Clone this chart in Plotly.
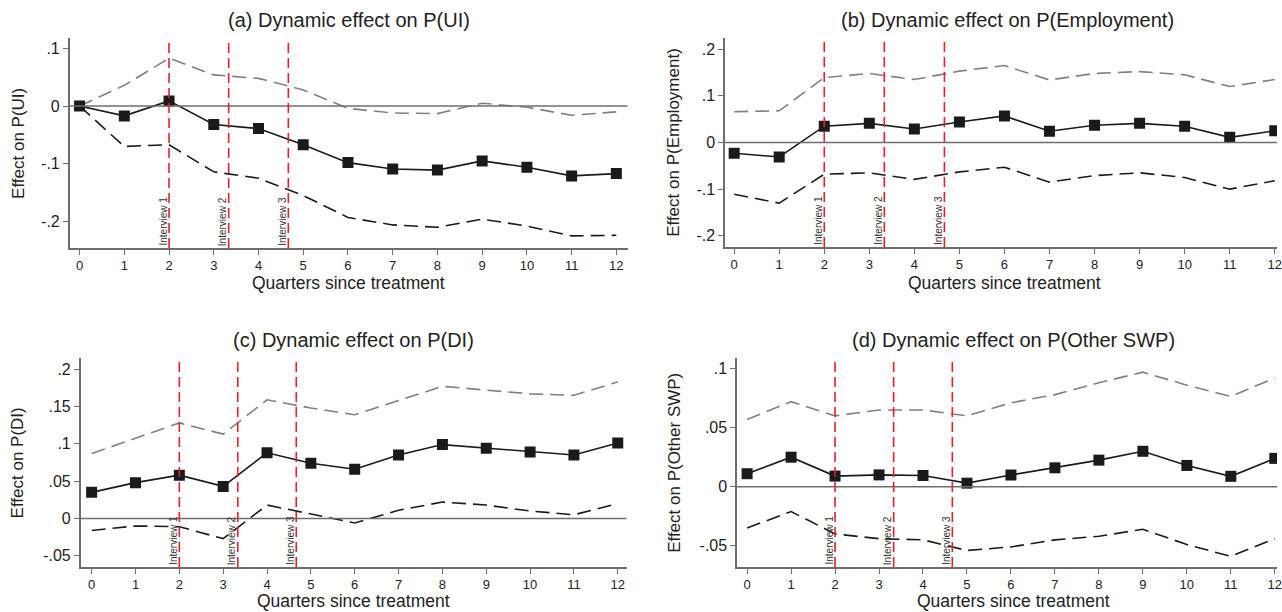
import plotly.graph_objects as go

quarters = list(range(13))
interviews = [2, 3.333, 4.667]
interview_labels = ["Interview 1", "Interview 2", "Interview 3"]

ui_est = [0, -0.017, 0.009, -0.032, -0.039, -0.067, -0.098, -0.109, -0.111, -0.095, -0.106, -0.121, -0.117]
ui_hi = [0, 0.036, 0.083, 0.054, 0.048, 0.028, -0.004, -0.012, -0.013, 0.005, -0.002, -0.016, -0.010]
ui_lo = [0, -0.070, -0.067, -0.114, -0.125, -0.155, -0.193, -0.206, -0.210, -0.196, -0.208, -0.225, -0.224]

emp_est = [-0.023, -0.031, 0.035, 0.041, 0.029, 0.044, 0.057, 0.024, 0.037, 0.041, 0.035, 0.011, 0.025]
emp_hi = [0.066, 0.068, 0.139, 0.148, 0.135, 0.153, 0.165, 0.134, 0.148, 0.152, 0.145, 0.120, 0.135]
emp_lo = [-0.111, -0.130, -0.068, -0.065, -0.079, -0.063, -0.053, -0.085, -0.071, -0.065, -0.075, -0.100, -0.082]

di_est = [0.035, 0.048, 0.058, 0.043, 0.088, 0.074, 0.066, 0.085, 0.099, 0.094, 0.089, 0.085, 0.101]
di_hi = [0.087, 0.107, 0.128, 0.113, 0.159, 0.148, 0.139, 0.158, 0.177, 0.172, 0.167, 0.165, 0.183]
di_lo = [-0.016, -0.010, -0.011, -0.027, 0.018, 0.006, -0.006, 0.011, 0.022, 0.018, 0.010, 0.005, 0.020]

swp_est = [0.011, 0.025, 0.009, 0.010, 0.0095, 0.003, 0.0099, 0.016, 0.0225, 0.030, 0.018, 0.0088, 0.024]
swp_hi = [0.057, 0.072, 0.060, 0.065, 0.065, 0.060, 0.071, 0.078, 0.088, 0.097, 0.086, 0.0765, 0.092]
swp_lo = [-0.035, -0.021, -0.040, -0.044, -0.045, -0.054, -0.051, -0.045, -0.042, -0.036, -0.049, -0.059, -0.044]

W, H = 1282, 612
FONT = "Liberation Sans, Arial, sans-serif"
XTITLE = "Quarters since treatment"

panels = [
    dict(title="(a) Dynamic effect on P(UI)", ytitle="Effect on P(UI)",
         est=ui_est, hi=ui_hi, lo=ui_lo,
         px=(70, 630), py=(38, 248), xr=[-0.22, 12.25], yr=[-0.246, 0.118],
         yt=[-0.2, -0.1, 0, 0.1], ytl=["-.2", "-.1", "0", ".1"], ytx=18, xtx=350, xty=283),
    dict(title="(b) Dynamic effect on P(Employment)", ytitle="Effect on P(Employment)",
         est=emp_est, hi=emp_hi, lo=emp_lo,
         px=(728, 1282), py=(38, 247), xr=[-0.2, 12.05], yr=[-0.224, 0.224],
         yt=[-0.2, -0.1, 0, 0.1, 0.2], ytl=["-.2", "-.1", "0", ".1", ".2"], ytx=676, xtx=1008, xty=283),
    dict(title="(c) Dynamic effect on P(DI)", ytitle="Effect on P(DI)",
         est=di_est, hi=di_hi, lo=di_lo,
         px=(81, 629), py=(358, 567), xr=[-0.25, 12.2], yr=[-0.065, 0.215],
         yt=[-0.05, 0, 0.05, 0.1, 0.15, 0.2], ytl=["-.05", "0", ".05", ".1", ".15", ".2"], ytx=18, xtx=355, xty=601),
    dict(title="(d) Dynamic effect on P(Other SWP)", ytitle="Effect on P(Other SWP)",
         est=swp_est, hi=swp_hi, lo=swp_lo,
         px=(740, 1282), py=(358, 567), xr=[-0.227, 12.05], yr=[-0.068, 0.109],
         yt=[-0.05, 0, 0.05, 0.1], ytl=["-.05", "0", ".05", ".1"], ytx=677, xtx=1017, xty=601),
]

fig = go.Figure()
layout = dict(width=W, height=H, margin=dict(l=0, r=0, t=0, b=0),
              paper_bgcolor="white", plot_bgcolor="white", showlegend=False,
              font=dict(family=FONT, color="#222"))
annotations = []
shapes = []

for i, p in enumerate(panels):
    n = i + 1
    xa = "x" if n == 1 else f"x{n}"
    ya = "y" if n == 1 else f"y{n}"
    xk = "xaxis" if n == 1 else f"xaxis{n}"
    yk = "yaxis" if n == 1 else f"yaxis{n}"
    x0, x1 = p["px"]
    y0, y1 = p["py"]
    layout[xk] = dict(domain=[x0 / W, x1 / W], range=p["xr"], anchor=ya,
                      tickmode="array", tickvals=quarters, ticktext=[str(q) for q in quarters],
                      showline=True, linecolor="#6e6e6e", linewidth=1.5,
                      ticks="outside", ticklen=5, tickcolor="#6e6e6e", tickwidth=1,
                      ticklabeloverflow="allow",
                      tickfont=dict(size=13, color="#222"), showgrid=False, zeroline=False)
    layout[yk] = dict(domain=[1 - y1 / H, 1 - y0 / H], range=p["yr"], anchor=xa,
                      tickmode="array", tickvals=p["yt"], ticktext=p["ytl"],
                      showline=True, linecolor="#6e6e6e", linewidth=1.5,
                      ticks="outside", ticklen=5, tickcolor="#6e6e6e", tickwidth=1,
                      tickfont=dict(size=16, color="#222"), showgrid=False, zeroline=False)
    annotations.append(dict(text=p["ytitle"], textangle=-90, xref="paper", yref="paper",
                            x=p["ytx"] / W, y=1 - (y0 + y1) / 2 / H, showarrow=False,
                            xanchor="center", yanchor="middle",
                            font=dict(size=17, color="#222")))
    annotations.append(dict(text=XTITLE, xref="paper", yref="paper",
                            x=p["xtx"] / W, y=1 - p["xty"] / H, showarrow=False,
                            xanchor="center", yanchor="middle",
                            font=dict(size=17.5, color="#222")))
    annotations.append(dict(text=p["title"], xref="paper", yref="paper",
                            x=(x0 + x1) / 2 / W if n in (1, 3) else (x0 + 1295) / 2 / W,
                            y=1 - (y0 - 18) / H, showarrow=False,
                            xanchor="center", yanchor="middle",
                            font=dict(size=20, color="#222")))
    # zero line
    shapes.append(dict(type="line", xref=f"{xa} domain", yref=ya, x0=0, x1=1, y0=0, y1=0,
                       line=dict(color="#6e6e6e", width=1.5)))
    # interview lines
    for xv, lab in zip(interviews, interview_labels):
        shapes.append(dict(type="line", xref=xa, yref=f"{ya} domain", x0=xv, x1=xv, y0=0, y1=1,
                           line=dict(color="#e8202a", width=1.6, dash="10px,5px")))
        annotations.append(dict(text=lab, textangle=-90, xref=xa, yref=ya, x=xv, y=p["yr"][0],
                                xshift=-6, xanchor="center", yanchor="bottom", showarrow=False,
                                font=dict(size=10, color="#333")))
    fig.add_trace(go.Scatter(x=quarters, y=p["hi"], mode="lines", xaxis=xa, yaxis=ya,
                             line=dict(color="#808080", width=1.6, dash="14px,7px")))
    fig.add_trace(go.Scatter(x=quarters, y=p["lo"], mode="lines", xaxis=xa, yaxis=ya,
                             line=dict(color="#1a1a1a", width=1.6, dash="14px,7px")))
    fig.add_trace(go.Scatter(x=quarters, y=p["est"], mode="lines+markers", xaxis=xa, yaxis=ya,
                             line=dict(color="#1a1a1a", width=1.6),
                             marker=dict(symbol="square", size=11, color="#1a1a1a")))

layout["annotations"] = annotations
layout["shapes"] = shapes
fig.update_layout(**layout)
fig.write_html("out.html")
